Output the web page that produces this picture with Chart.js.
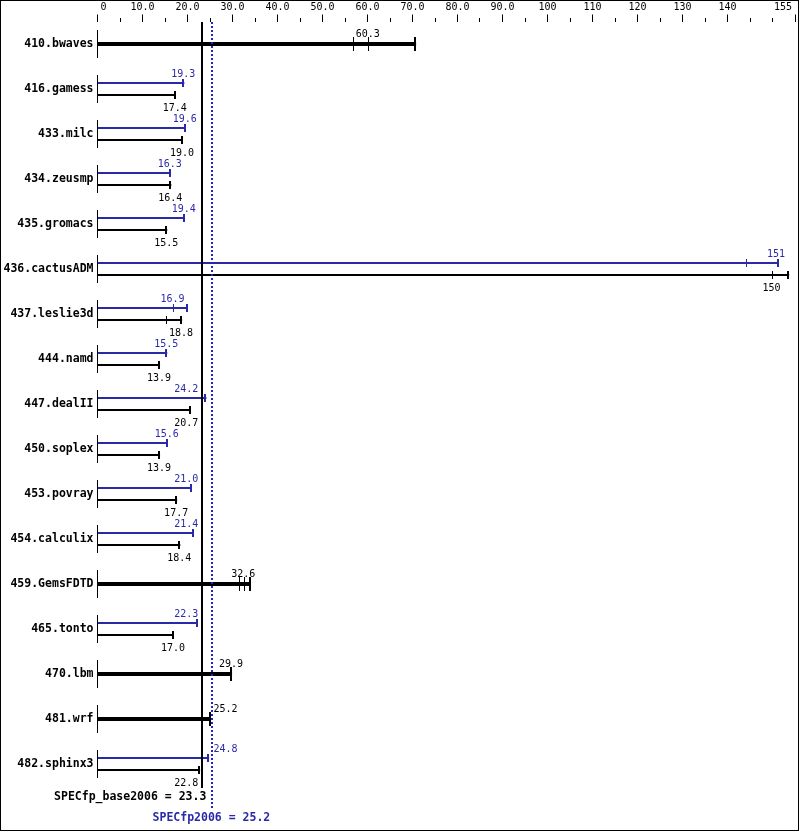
<!DOCTYPE html>
<html><head><meta charset="utf-8">
<script src="https://cdn.jsdelivr.net/npm/chart.js@4"></script>
<style>html,body{margin:0;padding:0;background:#fff}canvas{display:block}</style>
</head><body>
<canvas id="c" width="799" height="831"></canvas>
<script>
const categories = ['410.bwaves','416.gamess','433.milc','434.zeusmp','435.gromacs','436.cactusADM','437.leslie3d','444.namd','447.dealII','450.soplex','453.povray','454.calculix','459.GemsFDTD','465.tonto','470.lbm','481.wrf','482.sphinx3'];
const peakLow    = [null,19.3,19.6,16.3,19.4,144.3,16.9,15.5,24.2,15.6,21.0,21.4,null,22.3,null,null,24.8];
const peakMedian = [null,19.3,19.6,16.3,19.4,151,16.9,15.5,24.2,15.6,21.0,21.4,null,22.3,null,null,24.8];
const peakHigh   = [null,19.3,19.6,16.3,19.4,151.4,20.0,15.5,24.2,15.6,21.0,21.4,null,22.3,null,null,24.8];
const baseLow    = [56.8,17.4,19.0,16.4,15.5,150,15.3,13.9,20.7,13.9,17.7,18.4,31.6,17.0,29.9,25.2,22.8];
const baseMedian = [60.3,17.4,19.0,16.4,15.5,150,18.8,13.9,20.7,13.9,17.7,18.4,32.6,17.0,29.9,25.2,22.8];
const baseHigh   = [70.8,17.4,19.0,16.4,15.5,153.7,18.8,13.9,20.7,13.9,17.7,18.4,34.0,17.0,29.9,25.2,22.8];
const baseMean = 23.3;
const peakMean = 25.2;
const baseMeanLabel = 'SPECfp_base2006 = 23.3';
const peakMeanLabel = 'SPECfp2006 = 25.2';
const axisMax = 155;
const axisStep = 5;
const axisLabelValues = [0,10,20,30,40,50,60,70,80,90,100,110,120,130,140,155];

const BLUE = '#2a2aa8';
const DOT_BLUE = '#2424c0';
const MONO = '"DejaVu Sans Mono", "Liberation Mono", monospace';

const peakData = peakHigh.slice();
const baseData = baseHigh.map((v,i) => peakMedian[i] == null ? null : v);
const combinedData = baseHigh.map((v,i) => peakMedian[i] == null ? v : null);

function fmt(v){ if (v === 0) return '0'; return v >= 100 ? String(Math.round(v)) : v.toFixed(1); }

const specPlugin = {
  id: 'spec',
  afterDatasetsDraw(chart) {
    const ctx = chart.ctx, xs = chart.scales.x, ys = chart.scales.y, ca = chart.chartArea;
    ctx.save();
    const x0 = xs.getPixelForValue(0);
    const top = Math.round(ca.top), bottom = Math.round(ca.bottom);
    ctx.fillStyle = '#000';
    categories.forEach((c, i) => {
      const cy = Math.round(ys.getPixelForValue(i));
      ctx.fillRect(Math.round(x0 - 0.5), cy - 14, 1, 28);
    });
    for (let v = axisStep; v < axisMax; v += axisStep) {
      if (axisLabelValues.includes(v)) continue;
      const px = Math.round(xs.getPixelForValue(v) - 0.5);
      ctx.fillRect(px, top - 4, 1, 4);
    }
    const bl = xs.getPixelForValue(baseMean), pl = xs.getPixelForValue(peakMean);
    const mid = (baseMean + peakMean) / 2;
    const labels = [];
    [0, 1, 2].forEach(d => {
      const meta = chart.getDatasetMeta(d);
      meta.data.forEach((el, i) => {
        const raw = chart.data.datasets[d].data[i];
        if (raw == null) return;
        const cy = Math.round(el.y);
        const half = d === 2 ? 7 : 4;
        const low = d === 0 ? peakLow[i] : baseLow[i];
        const med = d === 0 ? peakMedian[i] : baseMedian[i];
        const high = d === 0 ? peakHigh[i] : baseHigh[i];
        ctx.fillStyle = d === 0 ? BLUE : '#000';
        [low, med].forEach(v => {
          if (v < high) ctx.fillRect(Math.round(xs.getPixelForValue(v) - 0.5), cy - half, 1, half * 2);
        });
        const ph = xs.getPixelForValue(high);
        ctx.fillRect(Math.round(ph) - 2, cy - half, 2, half * 2);
        let ty = d === 0 ? cy - 6.5 : (d === 1 ? cy + 15.5 : cy - 7.5);
        labels.push({v: med, text: fmt(med), y: ty, color: d === 0 ? BLUE : '#000'});
      });
    });
    ctx.fillStyle = '#000';
    ctx.fillRect(Math.round(bl) - 1, top, 2, bottom + 1 - top);
    ctx.fillStyle = DOT_BLUE;
    for (let yy = top; yy < bottom + 22; yy += 4) ctx.fillRect(Math.round(pl), yy, 2, 2);
    ctx.font = '10px ' + MONO;
    ctx.textBaseline = 'alphabetic';
    ctx.textAlign = 'center';
    labels.forEach(l => {
      const w = ctx.measureText(l.text).width;
      let x = xs.getPixelForValue(l.v) - 1;
      if (x + w / 2 > bl - 4 && x - w / 2 < pl + 2) {
        if (l.v < mid) x = bl - 4 - w / 2; else x = pl + 2.5 + w / 2;
      }
      ctx.fillStyle = l.color;
      ctx.fillText(l.text, x, l.y);
    });
    ctx.font = 'bold 11.5px ' + MONO;
    ctx.textBaseline = 'middle';
    ctx.fillStyle = '#000';
    ctx.textAlign = 'right';
    ctx.fillText(baseMeanLabel, bl + 4, bottom + 10);
    ctx.fillStyle = BLUE;
    ctx.textAlign = 'center';
    ctx.fillText(peakMeanLabel, pl + 0.5, bottom + 31);
    ctx.restore();
  },
  afterDraw(chart) {
    const ctx = chart.ctx;
    ctx.save();
    ctx.strokeStyle = '#000';
    ctx.lineWidth = 1;
    ctx.strokeRect(0.5, 0.5, chart.width - 1, chart.height - 1);
    ctx.restore();
  }
};

new Chart(document.getElementById('c'), {
  type: 'bar',
  data: {
    labels: categories,
    datasets: [
      {label: 'peak', data: peakData, backgroundColor: BLUE, categoryPercentage: 0.5334, barPercentage: 1, maxBarThickness: 2, borderWidth: 0},
      {label: 'base', data: baseData, backgroundColor: '#000', categoryPercentage: 0.5334, barPercentage: 1, maxBarThickness: 2, borderWidth: 0},
      {label: 'base=peak', data: combinedData, backgroundColor: '#000', categoryPercentage: 0.5334, barPercentage: 1, maxBarThickness: 4, borderWidth: 0}
    ]
  },
  options: {
    indexAxis: 'y',
    responsive: false,
    animation: false,
    devicePixelRatio: 1,
    skipNull: true,
    layout: {padding: {top: 0, bottom: 44.5, left: 0, right: 4}},
    plugins: {legend: {display: false}, tooltip: {enabled: false}},
    scales: {
      x: {
        type: 'linear', position: 'top', min: 0, max: axisMax,
        border: {display: false},
        grid: {
          display: true, drawOnChartArea: false, drawTicks: true, tickLength: 7,
          color: (c) => (c.tick && axisLabelValues.includes(c.tick.value)) ? '#000' : 'rgba(0,0,0,0)',
          lineWidth: 1
        },
        ticks: {
          stepSize: axisStep, maxTicksLimit: 100, autoSkip: false, maxRotation: 0, minRotation: 0,
          padding: 1, color: '#000', font: {family: MONO, size: 10},
          callback: (v) => {
            if (!axisLabelValues.includes(v)) return '';
            if (v === 0) return '  0';
            if (v === axisMax) return fmt(v) + '    ';
            return fmt(v);
          }
        },
        afterFit: (s) => { s.height = 21.5; s.paddingLeft = 0; s.paddingRight = 0; }
      },
      y: {
        type: 'category',
        border: {display: false},
        grid: {display: false, drawTicks: false},
        ticks: {padding: 4, color: '#000', autoSkip: false, font: {family: MONO, size: 11.5, weight: 'bold'}},
        afterFit: (s) => { s.width = 97.5; s.paddingTop = 0; s.paddingBottom = 0; }
      }
    }
  },
  plugins: [specPlugin]
});
</script>
</body></html>
